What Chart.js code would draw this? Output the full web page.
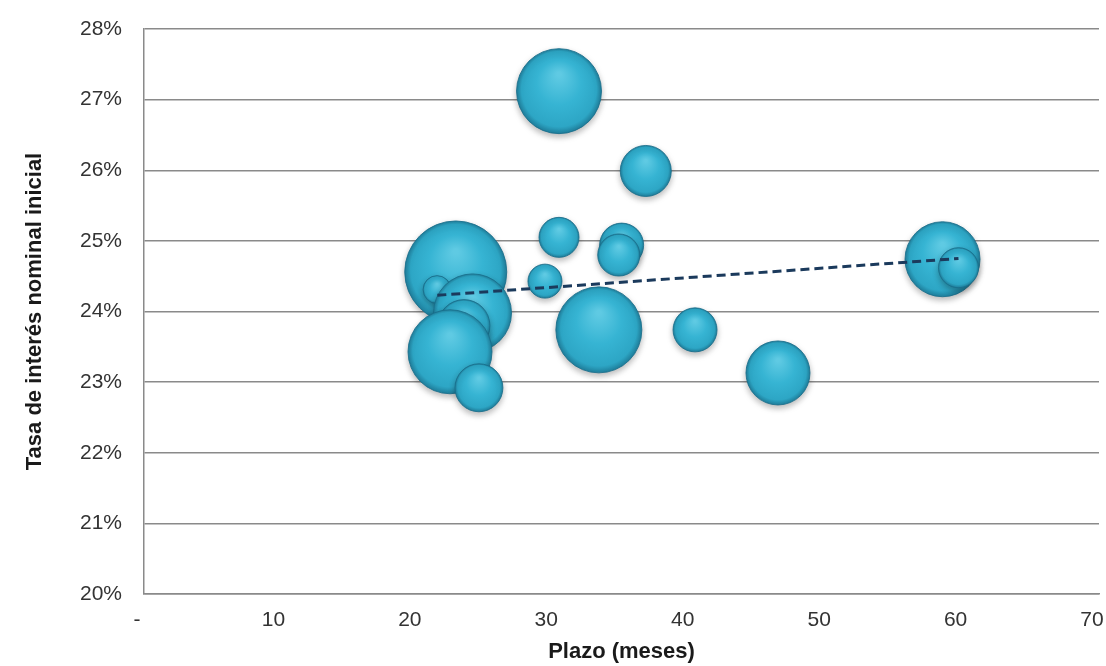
<!DOCTYPE html>
<html>
<head>
<meta charset="utf-8">
<script src="https://cdn.jsdelivr.net/npm/chart.js@4.4.1/dist/chart.umd.min.js"></script>
<style>
  html, body { margin: 0; padding: 0; background: #ffffff; }
  #grafico { display: block; }
</style>
</head>
<body>
<canvas id="grafico" width="1106" height="666"></canvas>
<script>
// Datos (orden = orden de dibujo)
const plazo = [22.85, 21.48, 24.08, 23.45, 22.43, 24.55, 29.39, 30.42, 33.34, 35.01, 34.8, 36.78, 30.42, 40.39, 46.47, 58.53, 59.7];
const tasa = [24.56, 24.31, 23.98, 23.80, 23.43, 22.92, 24.43, 25.05, 23.74, 24.94, 24.80, 25.99, 27.12, 23.74, 23.13, 24.74, 24.62];
const tamano = [100, 7.5, 58.5, 26, 67.8, 22.1, 11.1, 15.4, 71.1, 18.6, 17.0, 25, 69.4, 18.6, 39.4, 54.1, 15.4];

// Línea de tendencia (extremos)
const tendenciaPlazo = [21.5, 59.7];
const tendenciaTasa = [24.23, 24.75];

const etiquetasX = ["-", "10", "20", "30", "40", "50", "60", "70"];
const etiquetasY = ["20%", "21%", "22%", "23%", "24%", "25%", "26%", "27%", "28%"];

const RADIO_MAX = 51;

Chart.defaults.font.family = '"Liberation Sans", Arial, sans-serif';
Chart.defaults.font.size = 21;
Chart.defaults.color = "#333333";

const burbujas = plazo.map((p, i) => ({
  x: p,
  y: tasa[i],
  r: RADIO_MAX * Math.sqrt(tamano[i] / 100),
}));

const tendencia = tendenciaPlazo.map((p, i) => ({ x: p, y: tendenciaTasa[i] }));

// relleno con algo de volumen, como el original
const rellenoBurbuja = (ctx) => {
  const chart = ctx.chart;
  const raw = ctx.raw;
  if (!raw || !chart.scales || !chart.scales.x || !chart.scales.y) return "#33B3D2";
  const x = chart.scales.x.getPixelForValue(raw.x);
  const y = chart.scales.y.getPixelForValue(raw.y);
  const r = raw.r;
  if (!isFinite(x) || !isFinite(y) || !isFinite(r)) return "#33B3D2";
  const g = chart.ctx.createRadialGradient(x, y - r * 0.4, r * 0.05, x, y, r);
  g.addColorStop(0, "#5FCAE3");
  g.addColorStop(0.5, "#36B4D3");
  g.addColorStop(0.88, "#2DA6C5");
  g.addColorStop(1, "#1F7F9C");
  return g;
};

const sombra = {
  id: "sombra",
  beforeDatasetDraw(chart, args) {
    if (args.meta.type !== "bubble") return;
    const c = chart.ctx;
    c.save();
    c.shadowColor = "rgba(0, 0, 0, 0.28)";
    c.shadowBlur = 6;
    c.shadowOffsetY = 3;
  },
  afterDatasetDraw(chart, args) {
    if (args.meta.type !== "bubble") return;
    chart.ctx.restore();
  },
};

new Chart(document.getElementById("grafico"), {
  type: "bubble",
  data: {
    datasets: [
      {
        type: "line",
        data: tendencia,
        borderColor: "#1B3A5C",
        borderWidth: 3,
        borderDash: [9, 5],
        pointRadius: 0,
        fill: false,
        order: 0,
      },
      {
        type: "bubble",
        data: burbujas,
        backgroundColor: rellenoBurbuja,
        borderColor: "rgba(25, 110, 140, 0.85)",
        borderWidth: 1,
        order: 1,
      },
    ],
  },
  options: {
    responsive: false,
    animation: false,
    layout: { autoPadding: false, padding: { top: 29, right: 7, bottom: 0, left: 0 } },
    plugins: {
      legend: { display: false },
      tooltip: { enabled: false },
    },
    scales: {
      x: {
        type: "linear",
        min: 0,
        max: 70,
        grid: { display: false, drawTicks: false },
        border: { display: true, color: "#8a8a8a", width: 1.5 },
        ticks: {
          stepSize: 10,
          padding: 14,
          labelOffset: -7,
          maxRotation: 0,
          callback: (v) => etiquetasX[Math.round(v / 10)],
        },
        title: {
          display: true,
          text: "Plazo (meses)",
          color: "#1a1a1a",
          font: { size: 22, weight: "bold" },
          padding: { top: 0, bottom: 1 },
        },
        afterFit: (s) => {
          s.height = 72;
          s.paddingLeft = 0;
          s.paddingRight = 0;
        },
      },
      y: {
        type: "linear",
        min: 20,
        max: 28,
        grid: { color: "#8a8a8a", lineWidth: 1.4, drawTicks: false },
        border: { display: true, color: "#8a8a8a", width: 1.5 },
        ticks: {
          stepSize: 1,
          padding: 22,
          callback: (v) => etiquetasY[Math.round(v - 20)],
        },
        title: {
          display: true,
          text: "Tasa de interés nominal inicial",
          color: "#1a1a1a",
          font: { size: 22, weight: "bold" },
          padding: { top: 22, bottom: 0 },
        },
        afterFit: (s) => {
          s.width = 144;
          s.paddingTop = 0;
          s.paddingBottom = 0;
        },
      },
    },
  },
  plugins: [sombra],
});
</script>
</body>
</html>
